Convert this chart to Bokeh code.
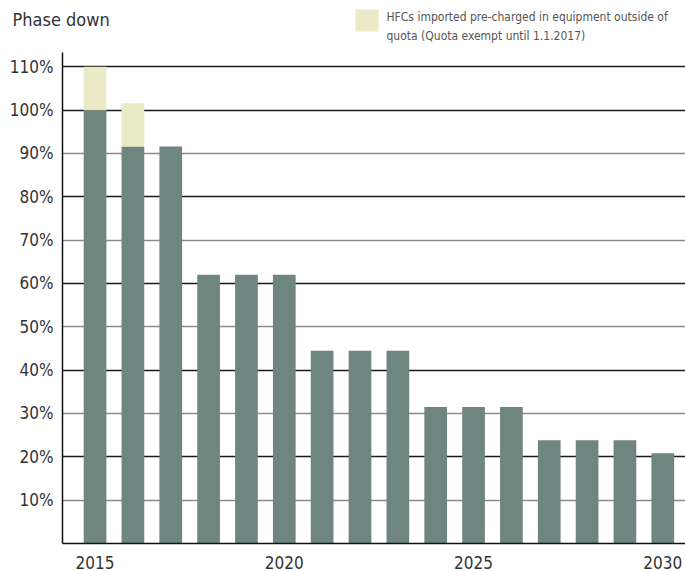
from bokeh.plotting import figure
from bokeh.layouts import column, row
from bokeh.models import (Range1d, FixedTicker, Grid, ColumnDataSource, CustomJSTickFormatter)
from bokeh.embed import file_html
from bokeh.resources import INLINE
from bokeh.core.properties import value

# ---- data ----
years = [2015, 2016, 2017, 2018, 2019, 2020, 2021, 2022, 2023, 2024, 2025, 2026, 2027, 2028, 2029, 2030]
quota = [100, 91.6, 91.6, 62, 62, 62, 44.5, 44.5, 44.5, 31.5, 31.5, 31.5, 23.8, 23.8, 23.8, 20.8]
exempt_years = [2015, 2016]
exempt = [10, 10]
y_ticks = [10, 20, 30, 40, 50, 60, 70, 80, 90, 100, 110]
dark_grid_ticks = [20, 40, 60, 80, 100, 110]
light_grid_ticks = [10, 30, 50, 70, 90]
x_ticks = [2015, 2020, 2025, 2030]
title_text = "Phase down"
legend_lines = ["HFCs imported pre-charged in equipment outside of",
                "quota (Quota exempt until 1.1.2017)"]

FONT = "'DejaVu Sans Condensed', 'Liberation Sans Narrow', 'Liberation Sans', sans-serif"
GREEN = "#6e8580"
CREAM = "#ece9c6"
TXT = "#333333"

# ---- header (title + legend) ----
h = figure(width=685, height=52, output_backend="svg", toolbar_location=None,
           x_range=Range1d(0, 685), y_range=Range1d(52, 0),
           x_axis_location=None, y_axis_location=None,
           min_border_left=0, min_border_right=0, min_border_top=0, min_border_bottom=0)
h.grid.visible = False
h.outline_line_color = None
h.text(x=[12], y=[19], text=[title_text], text_font=value(FONT), text_font_size="18px",
       text_color=TXT, text_baseline="middle", text_align="left")
h.quad(left=[355], right=[378], top=[9], bottom=[31], fill_color=CREAM, line_color=None)
h.text(x=[386, 386], y=[16, 35], text=legend_lines, text_font=value(FONT),
       text_font_size="12px", text_color="#555555", text_baseline="middle", text_align="left")

# ---- main chart ----
p = figure(width=685, height=519, output_backend="svg", toolbar_location=None,
           x_range=Range1d(2014.14, 2030.6), y_range=Range1d(0, 113.3),
           min_border_left=62, min_border_right=0, min_border_top=0, min_border_bottom=28)
p.outline_line_color = None

src = ColumnDataSource(dict(x=years, top=quota))
p.vbar(x="x", top="top", bottom=0, width=0.6, source=src, fill_color=GREEN, line_color=None)

ex_bottom = [quota[years.index(y)] for y in exempt_years]
ex_top = [b + e for b, e in zip(ex_bottom, exempt)]
ex_src = ColumnDataSource(dict(x=exempt_years, bottom=ex_bottom, top=ex_top))
p.vbar(x="x", top="top", bottom="bottom", width=0.6, source=ex_src,
       fill_color=CREAM, line_color=None)

p.xgrid.visible = False
p.ygrid.ticker = FixedTicker(ticks=dark_grid_ticks)
p.ygrid.grid_line_color = "#1a1a1a"
p.ygrid.grid_line_width = 1.5
p.add_layout(Grid(dimension=1, ticker=FixedTicker(ticks=light_grid_ticks),
                  grid_line_color="#8c8c8c", grid_line_width=1.5))

p.yaxis.ticker = FixedTicker(ticks=y_ticks)
p.yaxis.formatter = CustomJSTickFormatter(code="return tick + '%';")
p.xaxis.ticker = FixedTicker(ticks=x_ticks)
for ax in (p.xaxis[0], p.yaxis[0]):
    ax.major_tick_line_color = None
    ax.minor_tick_line_color = None
    ax.axis_line_color = "#111111"
    ax.axis_line_width = 1.5
    ax.major_label_text_font = FONT
    ax.major_label_text_font_size = "17px"
    ax.major_label_text_color = TXT
p.yaxis.major_label_standoff = 3
p.xaxis.major_label_standoff = 6

open("out.html", "w").write(file_html(column(row(h), p, spacing=0), INLINE))
